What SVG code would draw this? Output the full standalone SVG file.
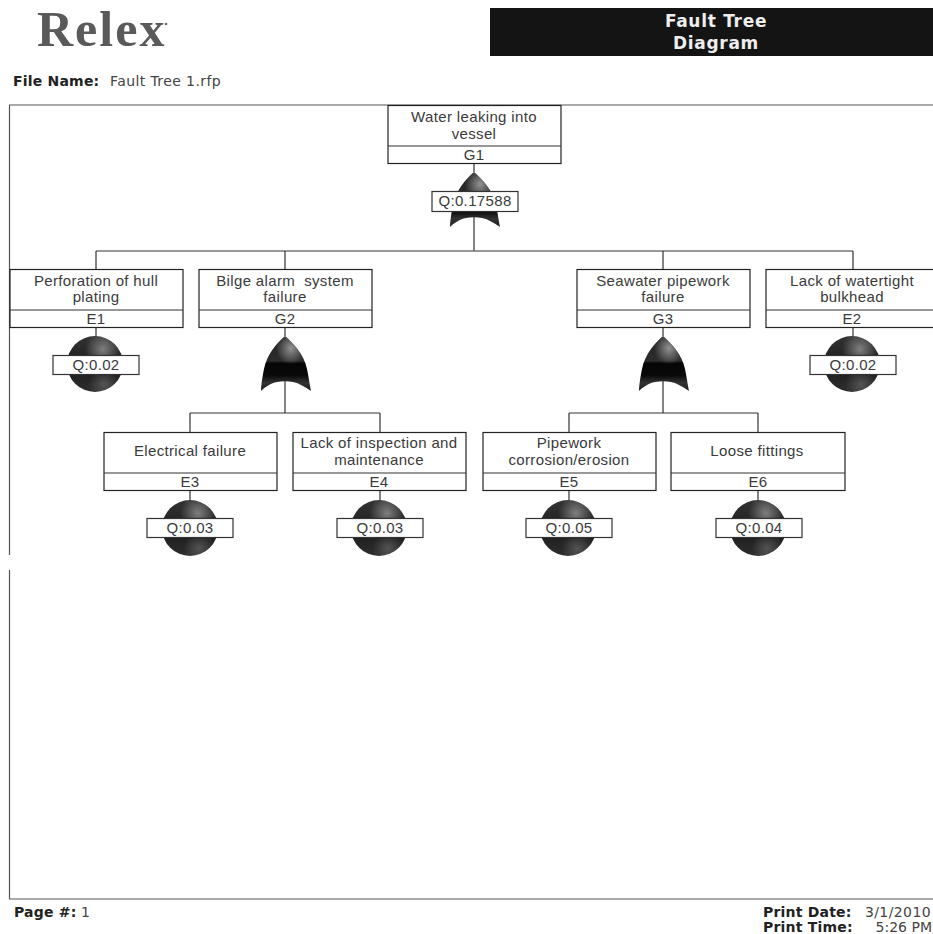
<svg xmlns="http://www.w3.org/2000/svg" width="933" height="934" viewBox="0 0 933 934">
<style>
.box{fill:#fff;stroke:#222;stroke-width:1.2}
.q{fill:#fff;stroke:#333;stroke-width:1.2}
.t{font-family:"Liberation Sans",Arial,sans-serif;font-size:15px;letter-spacing:.35px;fill:#3a3a3a;text-anchor:middle;white-space:pre}
.c{fill:none;stroke:#333;stroke-width:1.2}
.s{fill:none;stroke:#666;stroke-width:1.6}
.h{font-family:"DejaVu Sans",Verdana,sans-serif;font-size:14px;letter-spacing:.2px;font-weight:bold;fill:#222}
.n{font-family:"DejaVu Sans",Verdana,sans-serif;font-size:14px;letter-spacing:.4px;fill:#444}
.w{font-family:"DejaVu Sans",Verdana,sans-serif;font-size:17px;letter-spacing:.7px;font-weight:bold;fill:#eee;text-anchor:middle}
</style>
<defs>
<linearGradient id="ballbase" x1="0" y1="0" x2="0" y2="1">
<stop offset="0" stop-color="#333"/><stop offset="0.55" stop-color="#1c1c1c"/><stop offset="1" stop-color="#2e2e2e"/>
</linearGradient>
<radialGradient id="hi1" cx="0.64" cy="0.24" r="0.32">
<stop offset="0" stop-color="#fff" stop-opacity=".4"/><stop offset="1" stop-color="#fff" stop-opacity="0"/>
</radialGradient>
<radialGradient id="hi2" cx="0.66" cy="0.86" r="0.28">
<stop offset="0" stop-color="#fff" stop-opacity=".2"/><stop offset="1" stop-color="#fff" stop-opacity="0"/>
</radialGradient>
<linearGradient id="gate" x1="0" y1="0" x2="0" y2="1">
<stop offset="0" stop-color="#222"/><stop offset="0.45" stop-color="#2c2c2c"/><stop offset="0.5" stop-color="#050505"/><stop offset="0.72" stop-color="#0a0a0a"/><stop offset="0.85" stop-color="#333"/><stop offset="1" stop-color="#1e1e1e"/>
</linearGradient>
<radialGradient id="gatehi" cx="0.6" cy="0.22" r="0.3">
<stop offset="0" stop-color="#fff" stop-opacity=".5"/><stop offset="1" stop-color="#fff" stop-opacity="0"/>
</radialGradient>
<path id="orshape" d="M0 0C-8 7 -18 18 -21 33C-23 43 -24 50 -24 55C-20 51 -14 47 -8 46C-3 45 3 45 8 46C14 47 20 51 26 55C25 50 24 43 22 33C19 18 8 7 0 0Z"/>
<g id="or"><use href="#orshape" fill="url(#gate)"/><use href="#orshape" fill="url(#gatehi)"/></g>
<g id="ev"><circle r="28" fill="url(#ballbase)"/><circle r="28" fill="url(#hi1)"/><circle r="28" fill="url(#hi2)"/></g>
</defs>
<rect width="933" height="934" fill="#fff"/>
<g id="header">
<text x="37" y="46" font-family="Liberation Serif,Times New Roman,serif" font-size="50" font-weight="bold" letter-spacing="2" fill="#5a5a5a">Relex</text>
<circle cx="166" cy="24" r="1.3" fill="#666"/>
<rect x="490" y="8" width="443" height="48" fill="#141414"/>
<text x="716" y="27" class="w">Fault Tree</text>
<text x="716" y="49" class="w">Diagram</text>
<text x="13" y="86" class="h">File Name:</text>
<text x="110" y="86" class="n">Fault Tree 1.rfp</text>
</g>
<g id="frame" fill="none" stroke="#555" stroke-width="1.2">
<path d="M933 105H9.500V555M9.500 570V899H933"/>
</g>
<g id="connectors">
<path class="c" d="M474 163V172M96 251H853M96 251V269M285 251V269M663 251V269M853 251V269"/>
<path class="s" d="M474 217V251M285 381V413M663 381V413"/>
<path class="c" d="M96 328V338M285 328V336M190 413H380M190 413V432M380 413V432M853 328V338"/>
<path class="c" d="M663 328V336M569 413H758M569 413V432M758 413V432"/>
<path class="c" d="M190 491V501M380 491V501M569 491V501M758 491V501"/>
</g>
<g id="G1"><rect class="box" x="388" y="105.500" width="173" height="58"/><path class="c" d="M388 146H561"/>
<text class="t" x="474" y="122">Water leaking into</text><text class="t" x="474" y="139">vessel</text><text class="t" x="474" y="160">G1</text>
<use href="#or" x="474" y="172"/>
<rect class="q" x="432" y="191.500" width="86" height="20"/><text class="t" x="475" y="206">Q:0.17588</text></g>
<g id="E1"><rect class="box" x="10" y="269.500" width="173" height="58"/><path class="c" d="M10 310H183"/>
<text class="t" x="96" y="286">Perforation of hull</text><text class="t" x="96" y="302">plating</text><text class="t" x="96" y="324">E1</text>
<use href="#ev" x="95" y="364"/>
<rect class="q" x="53" y="355.500" width="86" height="19"/><text class="t" x="96" y="370">Q:0.02</text></g>
<g id="G2"><rect class="box" x="199" y="269.500" width="173" height="58"/><path class="c" d="M199 310H372"/>
<text class="t" x="285" y="286">Bilge alarm  system</text><text class="t" x="285" y="302">failure</text><text class="t" x="285" y="324">G2</text>
<use href="#or" x="285" y="336"/></g>
<g id="G3"><rect class="box" x="577" y="269.500" width="173" height="58"/><path class="c" d="M577 310H750"/>
<text class="t" x="663" y="286">Seawater pipework</text><text class="t" x="663" y="302">failure</text><text class="t" x="663" y="324">G3</text>
<use href="#or" x="663" y="336"/></g>
<g id="E2"><rect class="box" x="766" y="269.500" width="173" height="58"/><path class="c" d="M766 310H939"/>
<text class="t" x="852" y="286">Lack of watertight</text><text class="t" x="852" y="302">bulkhead</text><text class="t" x="852" y="324">E2</text>
<use href="#ev" x="852" y="364"/>
<rect class="q" x="810" y="355.500" width="86" height="19"/><text class="t" x="853" y="370">Q:0.02</text></g>
<g id="E3"><rect class="box" x="104" y="432.500" width="173" height="58"/><path class="c" d="M104 473H277"/>
<text class="t" x="190" y="456">Electrical failure</text><text class="t" x="190" y="487">E3</text>
<use href="#ev" x="190" y="528"/>
<rect class="q" x="147" y="518.500" width="86" height="19"/><text class="t" x="190" y="533">Q:0.03</text></g>
<g id="E4"><rect class="box" x="293" y="432.500" width="173" height="58"/><path class="c" d="M293 473H466"/>
<text class="t" x="379" y="448">Lack of inspection and</text><text class="t" x="379" y="465">maintenance</text><text class="t" x="379" y="487">E4</text>
<use href="#ev" x="379" y="528"/>
<rect class="q" x="337" y="518.500" width="86" height="19"/><text class="t" x="380" y="533">Q:0.03</text></g>
<g id="E5"><rect class="box" x="483" y="432.500" width="173" height="58"/><path class="c" d="M483 473H656"/>
<text class="t" x="569" y="448">Pipework</text><text class="t" x="569" y="465">corrosion/erosion</text><text class="t" x="569" y="487">E5</text>
<use href="#ev" x="568" y="528"/>
<rect class="q" x="526" y="518.500" width="86" height="19"/><text class="t" x="569" y="533">Q:0.05</text></g>
<g id="E6"><rect class="box" x="671" y="432.500" width="174" height="58"/><path class="c" d="M671 473H845"/>
<text class="t" x="757" y="456">Loose fittings</text><text class="t" x="758" y="487">E6</text>
<use href="#ev" x="758" y="528"/>
<rect class="q" x="716" y="518.500" width="86" height="19"/><text class="t" x="759" y="533">Q:0.04</text></g>
<g id="footer">
<text x="14" y="917" class="h">Page #:</text><text x="81" y="917" class="n">1</text>
<text x="763" y="917" class="h">Print Date:</text><text x="931" y="917" class="n" text-anchor="end">3/1/2010</text>
<text x="763" y="932" class="h">Print Time:</text><text x="932" y="932" class="n" text-anchor="end" style="letter-spacing:0">5:26 PM</text>
</g>
</svg>
